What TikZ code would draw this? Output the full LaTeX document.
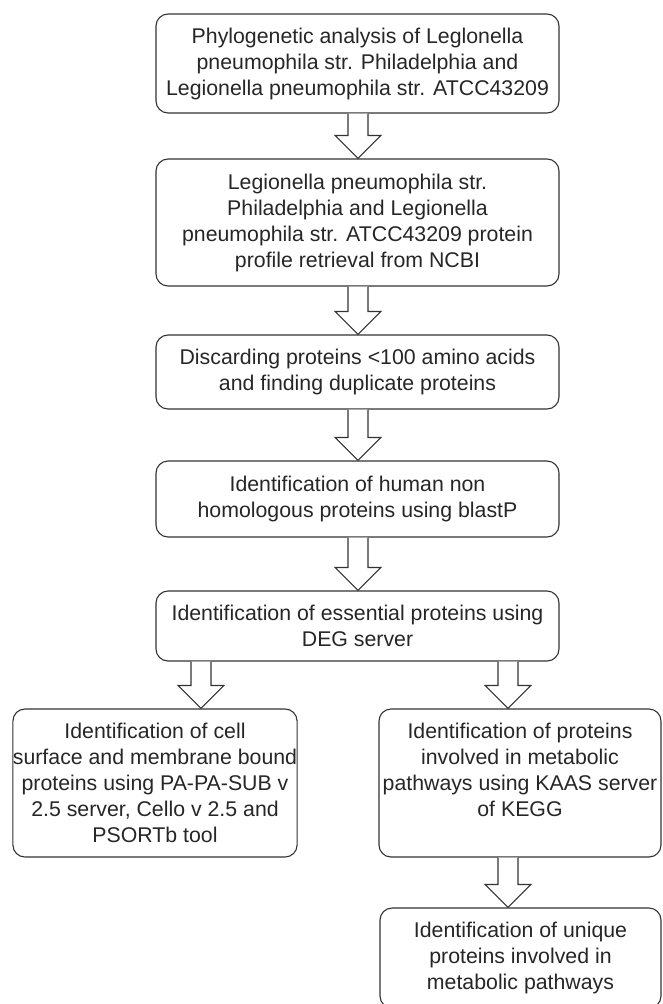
\documentclass[tikz,border=0pt]{standalone}
\usepackage{fontspec}
\setmainfont{Liberation Sans}
\usetikzlibrary{positioning}

\begin{document}
\begin{tikzpicture}[x=1pt,y=-1pt,line width=1.1pt]
	\tikzset{every node/.style={draw=black!80,text=black!85,rounded corners=12pt,align=center,inner sep=0pt,font=\fontsize{21.3}{26}\selectfont}}
	\tikzset{hollow/.style={draw=black!80,fill=white,line join=miter}}
	\useasboundingbox (0,0) rectangle (662,1004);
	\node[minimum width=403pt,minimum height=99pt]  (P) at (357.5,63.5)  {Phylogenetic analysis of Leglonella\\pneumophila str. Philadelphia and\\Legionella pneumophila str. ATCC43209};
	\node[minimum width=403pt,minimum height=127pt] (R) at (357.5,222.5) {Legionella pneumophila str.\\Philadelphia and Legionella\\pneumophila str. ATCC43209 protein\\profile retrieval from NCBI};
	\node[minimum width=403pt,minimum height=74pt]  (D) at (357.5,372)   {Discarding proteins <100 amino acids\\and finding duplicate proteins};
	\node[minimum width=403pt,minimum height=76pt]  (H) at (357.5,499)   {Identification of human non\\homologous proteins using blastP};
	\node[minimum width=403pt,minimum height=70pt]  (E) at (357.5,626)   {Identification of essential proteins using\\DEG server};
	\node[minimum width=284pt,minimum height=148pt] (C) at (155,783)     {Identification of cell\\surface and membrane bound\\proteins using PA-PA-SUB v\\2.5 server, Cello v 2.5 and\\PSORTb tool};
	\node[minimum width=282pt,minimum height=148pt] (M) at (520,783)     {Identification of proteins\\involved in metabolic\\pathways using KAAS server\\of KEGG\\\mbox{}};
	\node[minimum width=281pt,minimum height=100pt] (U) at (520.5,958)   {Identification of unique\\proteins involved in\\metabolic pathways};
	\foreach \a/\b/\x in {P/R/358,R/D/358,D/H/358,H/E/358,E/C/201,E/M/508,M/U/508}{
		\coordinate (s) at (\x,0 |- \a.south);
		\coordinate (t) at (\x,0 |- \b.north);
		\draw[hollow] ([xshift=-10pt]s) -- ([xshift=-10pt,yshift=23pt]t) -- ([xshift=-23pt,yshift=23pt]t) -- (t)
			-- ([xshift=23pt,yshift=23pt]t) -- ([xshift=10pt,yshift=23pt]t) -- ([xshift=10pt]s);
	}
\end{tikzpicture}
\end{document}
